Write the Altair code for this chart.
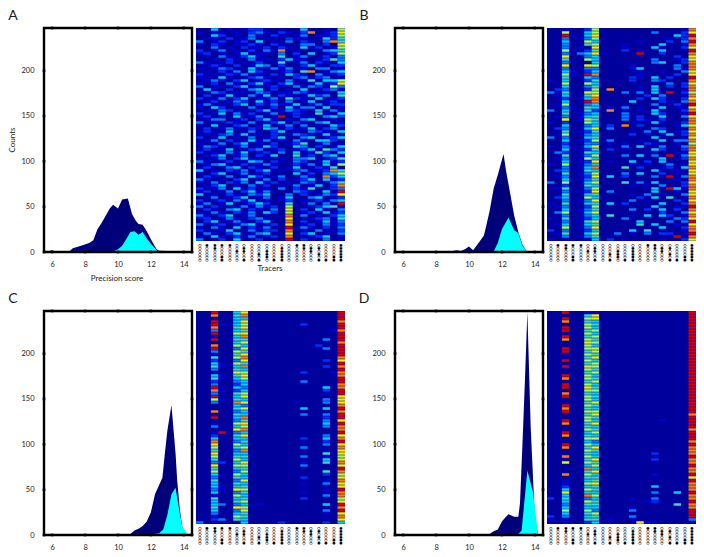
import altair as alt
import pandas as pd

X_TICKS = [6, 8, 10, 12, 14]
Y_TICKS = [0, 50, 100, 150, 200]
Y_MAX = 247

A_DARK_X = [5.5,5.6,5.8,6,6.2,7,7.25,7.75,8.25,8.5,8.75,9,9.25,9.5,9.7,10,10.25,10.6,10.85,11.1,11.25,11.5,11.75,12,12.35,12.5,13,14,14.5]
A_DARK_Y = [0,1,1,2,0,0,4,7,10,13,25,32,40,48,52,48,58,59,42,34,31,30,23,14,3,1.5,1,1,0]
A_CYAN_X = [9,9.5,9.75,10,10.25,10.5,10.75,11,11.25,11.5,11.75,12,12.4,12.5]
A_CYAN_Y = [0,0.5,1,3,7,14,22,23,19,22,15,9,1,0]
B_DARK_X = [5.5,9,9.25,9.5,9.75,10,10.25,10.5,10.9,11,11.25,11.5,11.75,12.1,12.25,12.5,12.75,13,13.25,13.5,13.75,14.5]
B_DARK_Y = [0,1,2,1,3,6,2,8,18,25,45,70,85,108,90,65,40,22,8,1,0,0]
B_CYAN_X = [11,11.5,11.75,12,12.25,12.4,12.75,13,13.25,13.5,13.75]
B_CYAN_Y = [0.5,0.5,10,25,33,38,24,21,7,1.5,0]
C_DARK_X = [5.5,10,10.75,11,11.25,11.5,11.75,12,12.25,12.5,12.7,12.85,13,13.25,13.5,13.6,13.75,13.9,14,14.2,14.5]
C_DARK_Y = [0,0.5,1,5,7,10,15,25,45,55,63,90,115,143,90,60,30,10,5,1,0]
C_CYAN_X = [12,12.5,12.75,13,13.25,13.5,13.75,13.9,14.1,14.25,14.5]
C_CYAN_Y = [0.5,2,6,22,45,52,25,10,4,1,0]
D_DARK_X = [5.5,9.5,10,10.5,11.25,11.5,11.75,12,12.25,12.4,12.75,13,13.1,13.25,13.4,13.55,13.75,13.9,14,14.2,14.25]
D_DARK_Y = [0,0,1,0.5,1,4,6,15,20,23,20,20,35,100,170,246,120,60,20,1,0]
D_CYAN_X = [13,13.2,13.55,13.9,14.2]
D_CYAN_Y = [1,5,71,47,1]

HEAT_A = [
"00401012200100400106","10110102310210280127","00420103102101301126","01102013010021100425",
"30120120401030210385","10210112102100330207","00301021120210412016","20130102031801000345",
"12010140110302040126","01031024100501300203","00102103110241101253","31012010201501302104",
"01210201430200241022","10132014103130103301","01021304210120580134","20102130102042103012",
"11041012310102312301","01310240121030150446","10203102410241014127","30110240112103132063",
"04102013402010401231","10320110320113210104","02014103140210142305","20130240113052104012",
"01201320412030140121","13010240213114013022","10420103102041330401","01032010240132104031",
"20140312013012105104","12010401301902010342","01330120241010340110","30102103012402103401",
"10410230140130301042","02013102043021140230","12104013102401032104","01023140102013210410",
"20140103012400340124","01302014130103104420","10130240102012501301","03210130142004302014",
"12014012301201240532","20103140120304015204","01240130214005120341","10130241010103340125",
"31012014302103201412","01340120131002130406","12013402102014012150","40102130240102301285",
"10240130120004120346","02103014201300310824","31010240130201240412","10302130412010320135",
"01240103120103014028","20130412010302150123","12013024130003210409","40102103240030201327",
"01301240130140034012","20120314010120102134","13014012420050130309","30210130312060012451",
"02103402103070204103","10310213042060120412","31024013010080301024","12013102310070012305",
"02401310240080201413","30120134012070120312","10310402130090310203","21014013022080103012",
"03102401340070240103","10410213012080012401","30120401200090210301",
]

HEAT_B = [
"00100260000000000018","00600460000000300027","00910470000000000429","00301360000000001028",
"00400640000010002039","00300560001000040018","00301070001000410027","00610250002010040009",
"00303471000090020008","00700340000000000207","00500640000000300127","00310040000000340028",
"00700760000100000308","00300330000140000318","00410240000010010037","00610980000010000207",
"00500430000210402009",
"10400250000200320008","00600640000000003027","00400350000010402028","02300260800010400018",
"30500760003030409026","01400570000002030018","00201480000020420027","00400980000400021038",
"01600340000000300209","00310540103010040117","30400520801010400028","00501340003000420019",
"01301450003020040037","00701650003021020008","10200640000100410028","00400340208020000147",
"02300470300000320008","00501250000103040127",
"01600340000201014028","30300450000000400017","00401260300010040338","00200330101002100106",
"10310470003040030038","00401250201000420028","03200540000001000117","00501360003040309037",
"01300640000000040128",
"00401270100402040007","10600340000101003017","00301480005020012048","02300540000000400107",
"00501360003040020117","01300270402000309038","00401350000000000108","30600470005030400027",
"00200540000101030028","01500360000000409418","00301270300000400107","00500450000103010037",
"02400640000020405018","00301370000301000207","10500450402000040028","01300260000000400119",
"00401350000302040208","03600470000000020037","00301340500104042018","10500240003000000327",
"00301560000040003039","01400450000050400107","00601370000000040028","20300240000405000018",
"01500460030103022019","00301350000000000908","10100140201000010027",
]

HEAT_C = [
"00900470000000000009","00800580000000000009","00100440000000000009","00900470000000000008",
"00910460000000200009","00800570000000000009","00300450000000000018","00900670000000000009",
"00100480000000000009","00900550000000000309","00000470000000000008","00800640000000002009",
"00900370000000000309","00300650000000000009","00100570000000000009",
"00500680000000000008","00200370000000000207","00410650000000000009","00510480000000000208",
"00300540000000000009","00000760000000200018","00410570000000000008","00510460000000000009",
"00200340000000300009",
"00300240000000000008","00910430000000000408","00810240000000000209","00300560000000000109",
"00900470000000000007","00610540000000000307","00300870000001000307","00000430000000000008",
"00000570000000400409","00800340000000000008","00100540000000300309","00900480000000000209",
"00000350000000000307","00100670000000000409","00300460000000000308",
"00000780000000000008","00190340000000000009","00200570000000000307","00400440000000200408",
"00800350000000000209","00700640000000000307",
"00600560000000300008","00500380000000000107","00700440000000000507","00600550000000300106",
"00500640000000000407","00320470000000100508","00700660000000300007","00500450000000000009",
"00600360000000000508","00410640000000000206","00300540000000200007","00500370000000000108",
"00400540000000100307","00410450000000000007","00310760000000000109",
"00400350000000100008","00100640000000000308","00500450000000200006","00400560000000000007",
"00430340100000000409","00500760000000000008","00400370000000000309","00300450000000000107",
"00100650000000000008","00230540000000000007","30100040000200000204",
]

HEAT_D = [
"00900110000000000009","00000570000000000009","00900670000000000009","00800540000000000009",
"00000650000000000009","00900640000000000009","00900560000000000009","00000640000000000009",
"00900560000000000009","00800650000000000009","00000760000000000009","00000640000000000009",
"00900670000000000009","00900560000000000009","00100650000000000009","00000570000000000009",
"00900640000000000009","00000560000000000009","00900760000000000009","00000650000000000009",
"00000560000000000009","00900640000000000009","00800650000000000009","00000560000000000009",
"00900640000000000009","00900750000000000009","00000660000000000009","00800540000000000009",
"00900650000000000009","00000640000000000009","00000570000000000009","00900650000000000009",
"00800540000000000009","00900660000000000009","00000570000000000008","00000650000000000009",
"00900640000000010009","00800570000000000009","00000540000000000009","00000650000000000008",
"00900460000000000009","00800540000000000009","00000670000000000009","00000430000000000008",
"00900640000000000009","00800570000000000008","00000650000000000008","00000540000000200008",
"00800640000000000009","00000570000000200008","00700650000000000008","00000460000000000009",
"00000840000000000008",
"00000570000000000008","00800640000000100009","00000550000000000007",
"00100450000000000009","00100670000000000008","00200450000000400008","00400650000000000008",
"00700440000000300409","00400860000000000008","20500340000100300008","00400650000001200009",
"00300550000000000508","00400440000100000008","00600630000300000009","00400560000000000009",
"20300450000300000009","10100550100100000003","00100240000071100000",
]

TRACER_LABELS = [
"○○○○○○","●○○○○○","●●○○○○","●○○○●●","●○○○○○",
"○○●○○○","○●●○○●","○○○○○○","○○○●○●","○○●●●○",
"○○○○○●","○●●●●●","○○○○○○","●○○○○○","●●○○○○",
"○●●○○○","○●○●○●","○○○○○●","○○○○●●","●●●●●●",
]

JET = ["#00009c","#0000d0","#0030ff","#0080ff","#00d0ff","#40d8c0","#a0ff60","#f0f000","#ff8000","#d80000"]
INK = "#1a1a1a"
FONT = "Lato"
AREA_W, AREA_H = 148, 224
HEAT_W, HEAT_H = 149, 213
TOP, BOTTOM = -27, 256


def text_at(s, x, y, size=8, angle=0):
    return alt.Chart(pd.DataFrame({"t": [s]})).mark_text(
        font=FONT, fontSize=size, color=INK, angle=angle, align="center", baseline="middle"
    ).encode(x=alt.value(x), y=alt.value(y), text="t:N")


def backdrop(x1, x2, y1=TOP, y2=BOTTOM, fill="white"):
    return alt.Chart(pd.DataFrame({"a": [0]})).mark_rect(fill=fill, strokeWidth=0).encode(
        x=alt.value(x1), x2=alt.value(x2), y=alt.value(y1), y2=alt.value(y2))


def area_panel(dx, dy, cx, cy, letter, first=False):
    xs = alt.Scale(domain=[5.5, 14.5], nice=False, zero=False)
    ys = alt.Scale(domain=[0, Y_MAX], nice=False)
    xa = alt.Axis(values=X_TICKS, ticks=False, domain=False, grid=False, title=None, labelFontSize=7.5,
                  labelFont=FONT, labelColor=INK, labelPadding=8, labelAngle=0, format="d", zindex=1,
                  labelOverlap=False, labelFlush=False)
    ya = alt.Axis(values=Y_TICKS, ticks=False, domain=False, grid=False, title=None, labelFontSize=7.5,
                  labelFont=FONT, labelColor=INK, labelPadding=10, format="d", zindex=1,
                  labelOverlap=False, labelFlush=False)
    dark = alt.Chart(pd.DataFrame({"x": dx, "y": dy})).mark_area(color="#00007a", interpolate="linear").encode(
        x=alt.X("x:Q", scale=xs, axis=xa), y=alt.Y("y:Q", scale=ys, axis=ya))
    cyan = alt.Chart(pd.DataFrame({"x": cx, "y": cy})).mark_area(color="#00ffff", interpolate="linear").encode(
        x=alt.X("x:Q", scale=xs, axis=xa), y=alt.Y("y:Q", scale=ys, axis=ya))
    rows = ([{"x": t, "y": 0} for t in X_TICKS] + [{"x": t, "y": Y_MAX} for t in X_TICKS]
            + [{"x": 5.5, "y": t} for t in Y_TICKS] + [{"x": 14.5, "y": t} for t in Y_TICKS])
    ticks = alt.Chart(pd.DataFrame(rows)).mark_point(filled=True, shape="square", size=7, color="black", opacity=1).encode(
        x=alt.X("x:Q", scale=xs, axis=xa), y=alt.Y("y:Q", scale=ys, axis=ya))
    frame = alt.Chart(pd.DataFrame({"a": [0]})).mark_rect(fill=None, stroke="black", strokeWidth=2.4).encode(
        x=alt.value(0), x2=alt.value(AREA_W), y=alt.value(0), y2=alt.value(AREA_H))
    parts = [backdrop(-40, 150), dark, cyan, frame, ticks, text_at(letter, -31, -12, size=14)]
    if first:
        parts += [text_at("Counts", -31, 112, angle=270), text_at("Precision score", 73, 251)]
    return alt.layer(*parts).properties(width=AREA_W, height=AREA_H)


def heat_panel(rows, first=False):
    recs = []
    for r, row in enumerate(rows):
        row = row[:20].ljust(20, "0")
        for c, ch in enumerate(row):
            recs.append({"r": r, "c": c, "v": int(ch)})
    df = pd.DataFrame(recs)
    cols = alt.Scale(domain=list(range(20)), paddingInner=0, paddingOuter=0)
    enc = dict(
        x=alt.X("c:O", scale=cols, axis=None),
        y=alt.Y("r:O", scale=alt.Scale(paddingInner=0, paddingOuter=0), axis=None),
        color=alt.Color("v:O", scale=alt.Scale(domain=list(range(10)), range=JET), legend=None),
    )
    soft = alt.Chart(df).mark_rect(strokeWidth=0, opacity=0.5).encode(**enc)
    sharp = alt.Chart(df).mark_rect(strokeWidth=0, height=1.9).encode(**enc)
    lab = alt.Chart(pd.DataFrame({"c": list(range(20)), "t": TRACER_LABELS})).mark_text(
        font="DejaVu Sans", fontSize=3.4, color="black", angle=90, align="left", baseline="middle", stroke="black", strokeWidth=0.15
    ).encode(x=alt.X("c:O", scale=cols, axis=None), y=alt.value(HEAT_H + 3), text="t:N")
    parts = [backdrop(0, HEAT_W), backdrop(0, HEAT_W, 0, HEAT_H, "#00009c"), soft, sharp, lab]
    if first:
        parts.append(text_at("Tracers", 74, 241))
    return alt.layer(*parts).properties(width=HEAT_W, height=HEAT_H)


def pair(a, h):
    return alt.hconcat(a, h, spacing=2)


row1 = alt.hconcat(
    pair(area_panel(A_DARK_X, A_DARK_Y, A_CYAN_X, A_CYAN_Y, "A", True), heat_panel(HEAT_A, True)),
    pair(area_panel(B_DARK_X, B_DARK_Y, B_CYAN_X, B_CYAN_Y, "B"), heat_panel(HEAT_B)),
    spacing=10)
row2 = alt.hconcat(
    pair(area_panel(C_DARK_X, C_DARK_Y, C_CYAN_X, C_CYAN_Y, "C"), heat_panel(HEAT_C)),
    pair(area_panel(D_DARK_X, D_DARK_Y, D_CYAN_X, D_CYAN_Y, "D"), heat_panel(HEAT_D)),
    spacing=10)

chart = alt.vconcat(row1, row2, spacing=0).properties(
    padding={"left": -4, "top": -7, "right": 0, "bottom": 0}, background="white"
).configure_view(stroke=None)

chart.save("out.html", embed_options={"renderer": "svg", "actions": False})
